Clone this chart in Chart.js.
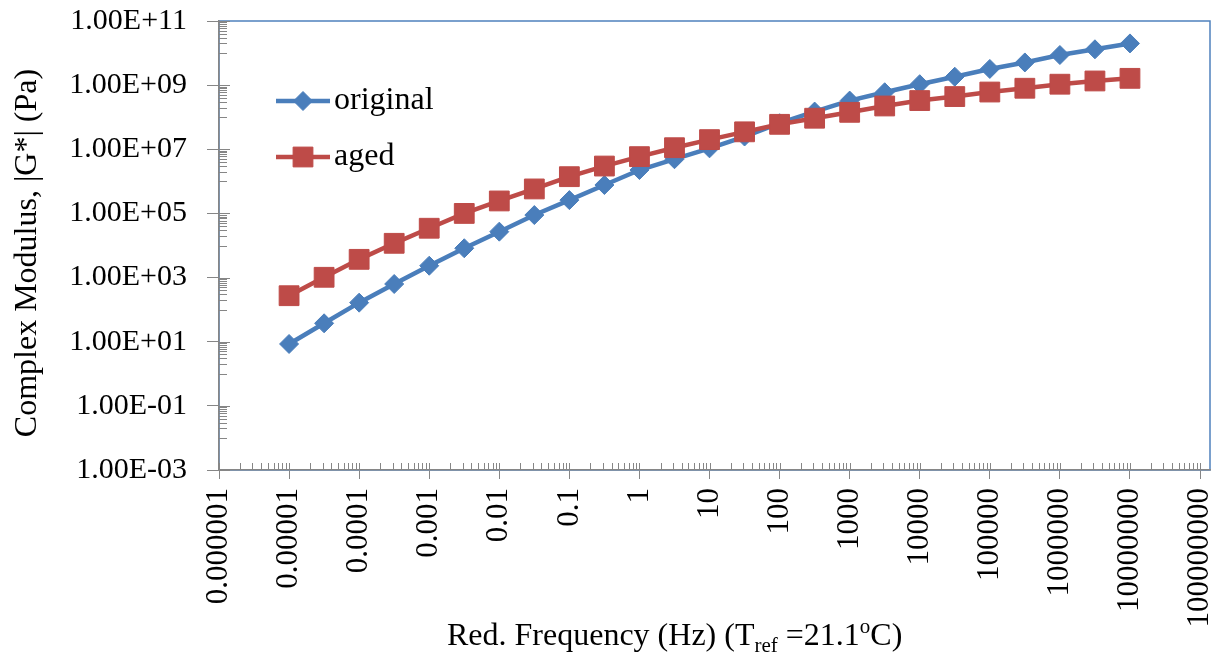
<!DOCTYPE html>
<html><head><meta charset="utf-8">
<script src="https://cdn.jsdelivr.net/npm/chart.js@4.4.1/dist/chart.umd.min.js"></script>
<style>html,body{margin:0;padding:0;background:#fff;}canvas{display:block;}</style>
</head><body>
<canvas id="c" width="1225" height="652"></canvas>
<script>
// ---- data ----
const frequencies = [1e-5, 3.162e-5, 1e-4, 3.162e-4, 1e-3, 3.162e-3, 1e-2, 3.162e-2, 0.1, 0.3162, 1, 3.162, 10, 31.62, 100, 316.2, 1000, 3162, 1e4, 3.162e4, 1e5, 3.162e5, 1e6, 3.162e6, 1e7];
const originalModulus = [8.5, 37.5, 165, 630, 2340, 8200, 2.7e4, 8.9e4, 2.6e5, 7.7e5, 2.26e6, 4.9e6, 1.07e7, 2.5e7, 6.5e7, 1.5e8, 3.3e8, 6.0e8, 1.07e9, 1.83e9, 3.2e9, 5.1e9, 8.7e9, 1.31e10, 2.0e10];
const agedModulus = [272, 1020, 3700, 1.17e4, 3.45e4, 1.0e5, 2.45e5, 5.8e5, 1.4e6, 3.0e6, 5.9e6, 1.12e7, 2.0e7, 3.5e7, 6.0e7, 9.3e7, 1.42e8, 2.24e8, 3.3e8, 4.4e8, 6.1e8, 8.0e8, 1.07e9, 1.35e9, 1.63e9];
const seriesNames = ['original', 'aged'];
const xTickValues = [1e-6, 1e-5, 1e-4, 1e-3, 1e-2, 1e-1, 1, 10, 100, 1000, 1e4, 1e5, 1e6, 1e7, 1e8];
const xTickLabels = ['0.000001', '0.00001', '0.0001', '0.001', '0.01', '0.1', '1', '10', '100', '1000', '10000', '100000', '1000000', '10000000', '100000000'];
const yTickValues = [1e-3, 1e-1, 1e1, 1e3, 1e5, 1e7, 1e9, 1e11];
const yTickLabels = ['1.00E-03', '1.00E-01', '1.00E+01', '1.00E+03', '1.00E+05', '1.00E+07', '1.00E+09', '1.00E+11'];
const yTitle = 'Complex Modulus, |G*| (Pa)';
const xTitleParts = [['Red. Frequency (Hz) (T', 'n'], ['ref', 'sub'], [' =21.1', 'n'], ['o', 'sup'], ['C)', 'n']];

// ---- styling ----
const FONT = '"Liberation Serif","Times New Roman",serif';
const axisGray = '#868686';
const blue = '#4A7EBB';
const red = '#BE4B48';

const framePlugin = {
  id: 'frame',
  beforeDraw(chart) {
    const {ctx, chartArea: a} = chart;
    ctx.save();
    ctx.strokeStyle = '#4F81BD';
    ctx.lineWidth = 1.5;
    ctx.strokeRect(a.left, a.top, a.right - a.left, a.bottom - a.top);
    ctx.restore();
  }
};

const minorTickPlugin = {
  id: 'minorTicks',
  beforeDatasetsDraw(chart) {
    const {ctx, chartArea: a, scales} = chart;
    const xs = scales.x, ys = scales.y;
    ctx.save();
    ctx.strokeStyle = axisGray;
    ctx.lineWidth = 1;
    ctx.beginPath();
    for (let d = -6; d <= 8; d++) {
      for (let k = 1; k <= 9; k++) {
        const v = k * Math.pow(10, d);
        if (v > xs.max) continue;
        const px = Math.round(xs.getPixelForValue(v)) + 0.5;
        ctx.moveTo(px, a.bottom);
        ctx.lineTo(px, a.bottom - 7);
      }
    }
    for (let e = -3; e <= 11; e++) {
      const odd = Math.abs(e) % 2 === 1;
      for (let k = 1; k <= (odd ? 1 : 9); k++) {
        const v = k * Math.pow(10, e);
        if (v > ys.max) continue;
        const py = Math.round(ys.getPixelForValue(v)) + 0.5;
        ctx.moveTo(a.left, py);
        ctx.lineTo(a.left + (odd ? 11 : 8), py);
      }
    }
    ctx.stroke();
    ctx.restore();
  }
};

const titlePlugin = {
  id: 'titles',
  afterDraw(chart) {
    const {ctx} = chart;
    ctx.save();
    ctx.fillStyle = '#000';
    // y title
    ctx.font = '32px ' + FONT;
    ctx.translate(28, 253);
    ctx.rotate(-Math.PI / 2);
    ctx.textAlign = 'center';
    ctx.textBaseline = 'middle';
    ctx.fillText(yTitle, 0, 0);
    ctx.setTransform(1, 0, 0, 1, 0, 0);
    // x title
    let x = 447;
    const base = 645;
    ctx.textAlign = 'left';
    ctx.textBaseline = 'alphabetic';
    for (const [txt, kind] of xTitleParts) {
      let size = 32, dy = 0;
      if (kind === 'sub') { size = 21; dy = 7; }
      if (kind === 'sup') { size = 21; dy = -12; }
      ctx.font = size + 'px ' + FONT;
      ctx.fillText(txt, x, base + dy);
      x += ctx.measureText(txt).width;
    }
    ctx.restore();
  }
};

const legendPlugin = {
  id: 'customLegend',
  afterDraw(chart) {
    const {ctx} = chart;
    const rows = [101, 157];
    ctx.save();
    chart.data.datasets.forEach((ds, i) => {
      const y = rows[i];
      ctx.strokeStyle = ds.borderColor;
      ctx.lineWidth = ds.borderWidth;
      ctx.beginPath();
      ctx.moveTo(276, y);
      ctx.lineTo(330, y);
      ctx.stroke();
      ctx.fillStyle = ds.backgroundColor;
      ctx.lineWidth = 1;
      Chart.helpers.drawPoint(ctx, {pointStyle: ds.pointStyle, radius: ds.pointRadius, rotation: 0, borderWidth: 1}, 303, y);
      ctx.fillStyle = '#000';
      ctx.font = '32px ' + FONT;
      ctx.textAlign = 'left';
      ctx.textBaseline = 'middle';
      ctx.fillText(ds.label, 334, y);
    });
    ctx.restore();
  }
};

new Chart(document.getElementById('c'), {
  type: 'line',
  data: {
    datasets: [
      {
        label: seriesNames[0],
        data: frequencies.map((f, i) => ({x: f, y: originalModulus[i]})),
        borderColor: blue, backgroundColor: blue, borderWidth: 4.5,
        pointStyle: 'rectRot', pointRadius: 9.5, pointBorderWidth: 1,
        pointBackgroundColor: blue, pointBorderColor: blue,
        tension: 0, order: 1
      },
      {
        label: seriesNames[1],
        data: frequencies.map((f, i) => ({x: f, y: agedModulus[i]})),
        borderColor: red, backgroundColor: red, borderWidth: 4.5,
        pointStyle: 'rect', pointRadius: 14, pointBorderWidth: 1,
        pointBackgroundColor: red, pointBorderColor: red,
        tension: 0, order: 0
      }
    ]
  },
  options: {
    responsive: false,
    animation: false,
    devicePixelRatio: 1,
    layout: {padding: {top: 21, right: 10, left: 0, bottom: 0}},
    plugins: {legend: {display: false}, tooltip: {enabled: false}},
    scales: {
      x: {
        type: 'logarithmic', position: 'bottom', min: 1e-6, max: 1.387e8,
        afterBuildTicks: s => { s.ticks = xTickValues.map(v => ({value: v})); },
        afterFit: s => { s.height = 182; s.paddingLeft = 0; s.paddingRight = 0; },
        grid: {drawOnChartArea: false, drawTicks: true, tickLength: 9, color: axisGray, lineWidth: 1},
        border: {display: true, color: axisGray, width: 1.5},
        ticks: {autoSkip: false, minRotation: 90, maxRotation: 90, padding: 9, color: '#000',
          font: {family: FONT, size: 31}, callback: (v, i) => xTickLabels[i]}
      },
      y: {
        type: 'logarithmic', position: 'left', min: 1e-3, max: 1e11,
        afterBuildTicks: s => { s.ticks = yTickValues.map(v => ({value: v})); },
        afterFit: s => { s.width = 219; s.paddingTop = 0; s.paddingBottom = 0; },
        grid: {drawOnChartArea: false, drawTicks: true, tickLength: 12, color: axisGray, lineWidth: 1},
        border: {display: true, color: axisGray, width: 1.5},
        ticks: {autoSkip: false, padding: 20, color: '#000',
          font: {family: FONT, size: 30}, callback: (v, i) => yTickLabels[i]}
      }
    }
  },
  plugins: [framePlugin, minorTickPlugin, titlePlugin, legendPlugin]
});
</script>
</body></html>
